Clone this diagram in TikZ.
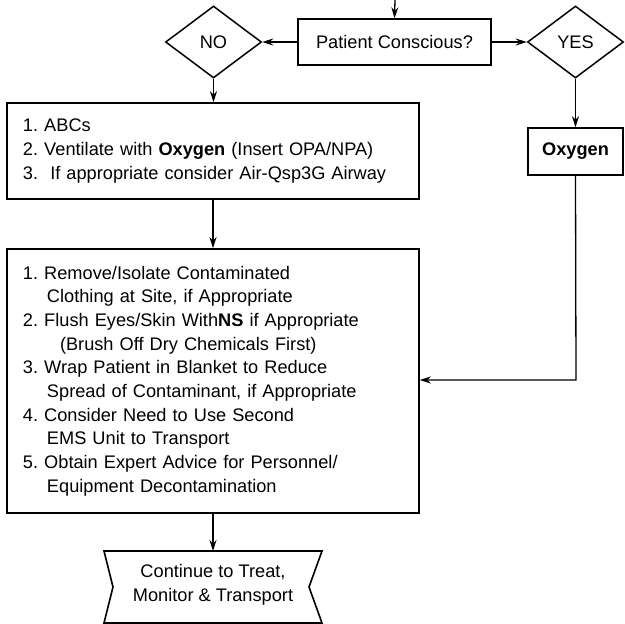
\documentclass[tikz,border=0pt]{standalone}
\usepackage{fontspec}
\setmainfont{Liberation Sans}
\usetikzlibrary{shapes.geometric,arrows.meta}
\frenchspacing
\begin{document}
\begin{tikzpicture}[x=1pt,y=-1pt,
  every node/.style={font=\fontsize{18.2}{23.7}\selectfont},
  box/.style={draw, line width=1.6pt, inner sep=0pt},
  dia/.style={draw, diamond, line width=1.5pt, inner sep=0pt, minimum width=96pt, minimum height=72pt},
  listbox/.style={box, minimum width=412pt, text width=380pt, align=left, inner xsep=16pt, inner ysep=0pt},
  arr/.style={line width=1.3pt, -{Stealth[length=11pt,width=7pt]}},
  ln/.style={line width=1.3pt}]
\useasboundingbox (0,0) rectangle (624,624);
\coordinate (top) at (395,0);
\node[box, minimum width=193pt, minimum height=46pt] (pc) at (394.5,42) {Patient Conscious?};
\node[dia] (no) at (213.5,42) {NO};
\node[dia] (yes) at (575.5,42) {YES};
\node[box, minimum width=95pt, minimum height=47pt] (oxy) at (575.5,151.5) {\bfseries Oxygen};
\node[listbox, minimum height=96pt] (b1) at (213,151) {1. ABCs\\2. Ventilate with \textbf{Oxygen} (Insert OPA/NPA)\\3.\ \ If appropriate consider Air-Qsp3G Airway};
\node[listbox, minimum height=264pt] (b2) at (213,381) {1. Remove/Isolate Contaminated\\
\hspace*{24pt}Clothing at Site, if Appropriate\\
2. Flush Eyes/Skin With\textbf{NS} if Appropriate\\
\hspace*{37pt}(Brush Off Dry Chemicals First)\\
3. Wrap Patient in Blanket to Reduce\\
\hspace*{24pt}Spread of Contaminant, if Appropriate\\
4. Consider Need to Use Second\\
\hspace*{24pt}EMS Unit to Transport\\
5. Obtain Expert Advice for Personnel/\\
\hspace*{24pt}Equipment Decontamination};
\draw[line width=1.6pt] (104,551) -- (322,551) -- (309,587) -- (322,623) -- (104,623) -- (113,587) -- cycle;
\node[align=center] (cont) at (213,585) {Continue to Treat,\\Monitor \& Transport};
\coordinate (ct) at (213,551);
\coordinate (j) at (576,380);
\draw[arr] (top) -- (pc.north);
\draw[arr] (pc.west) -- (no.east);
\draw[arr] (pc.east) -- (yes.west);
\draw[arr] (no.south) -- (b1.north -| no.south);
\draw[arr] (yes.south) -- (oxy.north);
\draw[arr] (b1.south) -- (b2.north);
\draw[arr] (oxy.south) -- (j) -- (j -| b2.east);
\draw[arr] (b2.south) -- (ct);
\end{tikzpicture}
\end{document}
